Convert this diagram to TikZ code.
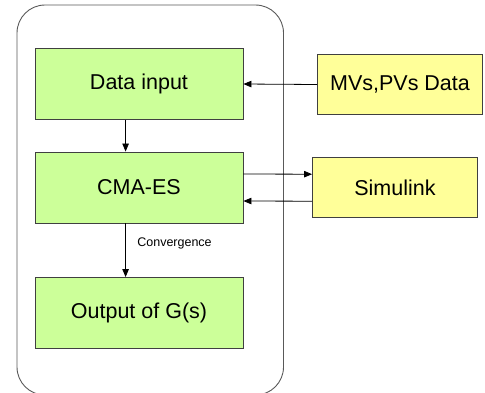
\documentclass[tikz,border=0pt]{standalone}
\usepackage{fontspec}
\setmainfont{Liberation Sans}
\usetikzlibrary{arrows.meta}
\definecolor{boxgreen}{HTML}{CCFF99}
\definecolor{boxyellow}{HTML}{FFFF99}
\begin{document}
\begin{tikzpicture}[x=1pt,y=-1pt,>={Triangle[length=8pt,width=6.5pt]},
  stepgreen/.style={draw=black!75,fill=boxgreen,line width=0.9pt,minimum width=208pt,minimum height=71pt,inner sep=0pt,font=\fontsize{21.5}{25}\selectfont},
  stepyellow/.style={draw=black!75,fill=boxyellow,line width=0.9pt,minimum width=165pt,minimum height=60pt,inner sep=0pt,font=\fontsize{21.5}{25}\selectfont}]
\useasboundingbox (0,0) rectangle (485,392);
\draw[black!65,line width=0.9pt,rounded corners=28pt] (17,5) rectangle (283.5,395);
\node[stepgreen] (datain) at (139,84) {Data input};
\node[stepgreen] (cmaes) at (139,187.5) {CMA-ES};
\node[stepgreen] (output) at (139,313) {Output of G(s)};
\node[stepyellow] (mvdata) at (400,84.5) {MVs,PVs Data};
\node[stepyellow] (simulink) at (395,187.7) {Simulink};
\draw[->,line width=0.8pt] (mvdata.west) -- (datain.east);
\draw[->,line width=0.8pt] (datain.south-|125.6,0) -- (cmaes.north-|125.6,0);
\draw[->,line width=0.8pt] (cmaes.south-|125.6,0) -- node[right,pos=0.38,xshift=8pt,font=\fontsize{12.5}{14}\selectfont]{Convergence} (output.north-|125.6,0);
\draw[->,line width=0.8pt] ([yshift=13.5pt]cmaes.east) -- ([yshift=13.5pt]simulink.west);
\draw[->,line width=0.8pt] ([yshift=-13.5pt]simulink.west) -- ([yshift=-13.5pt]cmaes.east);
\end{tikzpicture}
\end{document}
